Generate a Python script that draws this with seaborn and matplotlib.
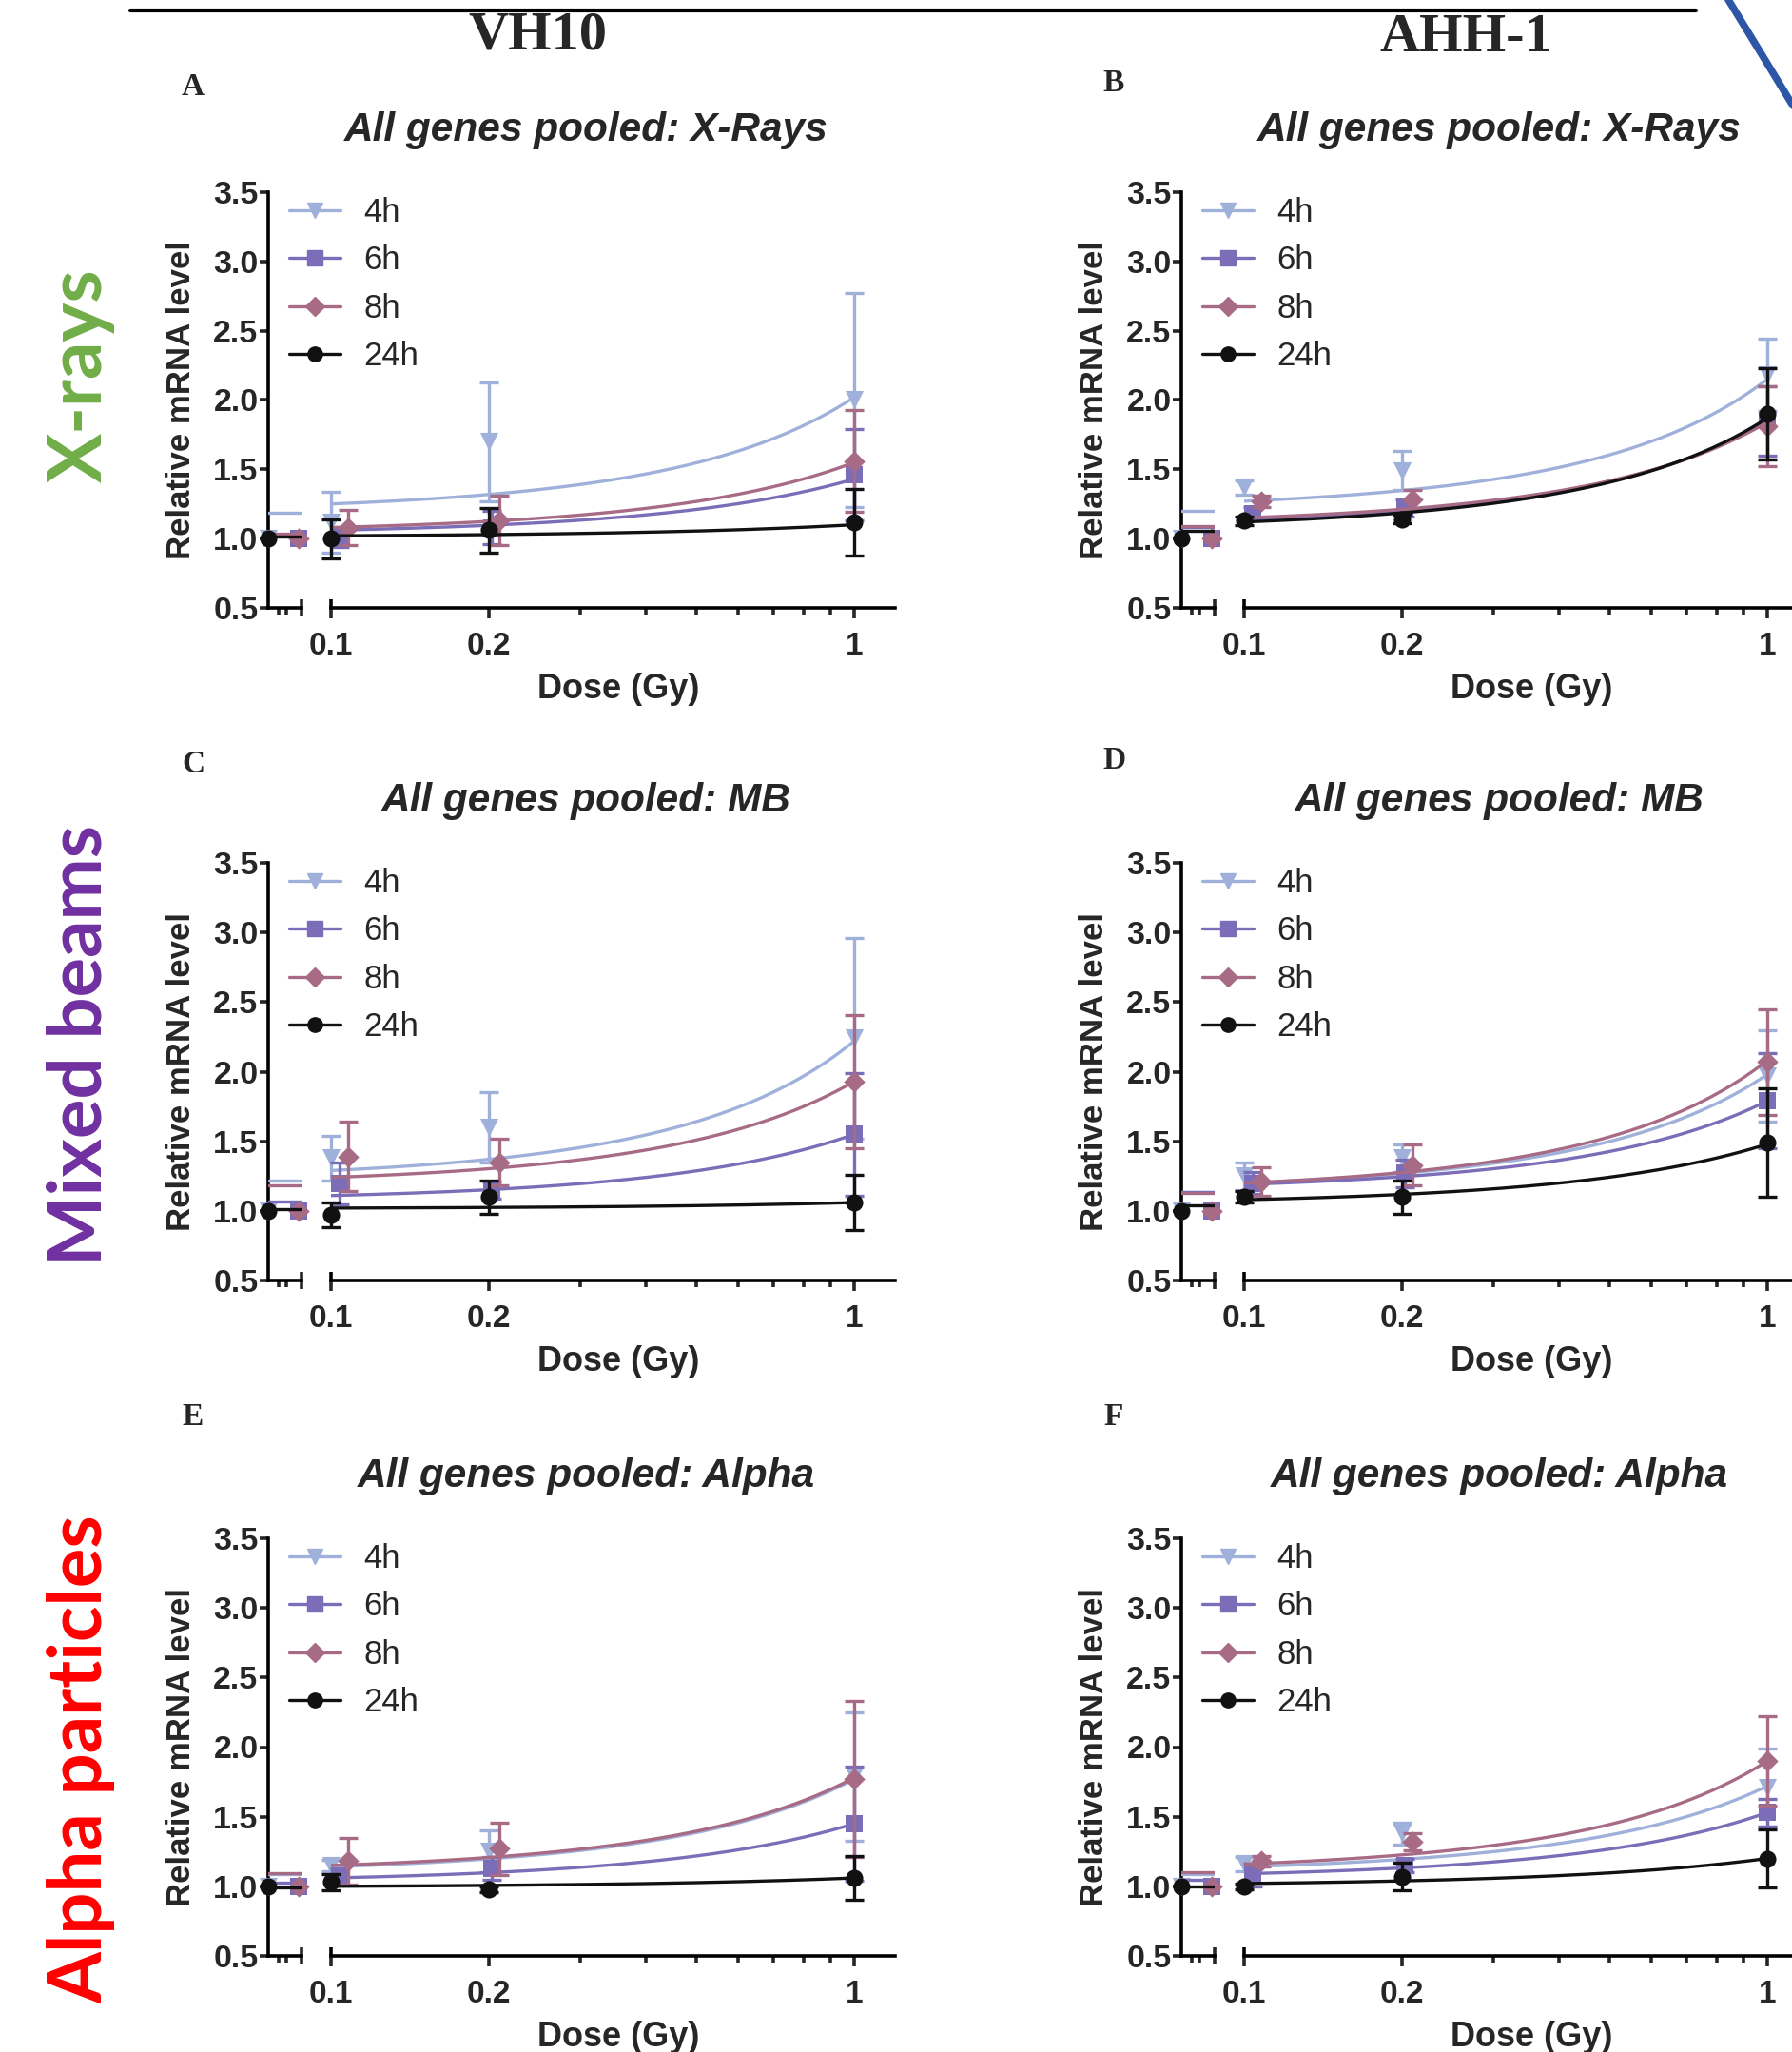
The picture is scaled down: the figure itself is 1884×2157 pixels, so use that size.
import numpy as np
import pandas as pd
import matplotlib
matplotlib.use("Agg")
import matplotlib.pyplot as plt
import seaborn as sns
from matplotlib.lines import Line2D
from matplotlib.ticker import FixedLocator, FixedFormatter, NullFormatter

# ---- data (relative mRNA level, mean and SD) ----
TIMES = ["4h", "6h", "8h", "24h"]
DOSES = [0, 0.1, 0.2, 1]
# doses as plotted per time point (Prism nudges some series a little)
DOSE_4H = [0, 0.1, 0.2, 1]
DOSE_6H = [0, 0.104, 0.203, 1]
DOSE_8H = [0, 0.108, 0.21, 1]
DOSE_24H = [0, 0.1, 0.2, 1]

CELL_LINES = ["VH10", "AHH-1"]
ROW_LABELS = ["X-rays", "Mixed beams", "Alpha particles"]
TITLES = ["All genes pooled: X-Rays", "All genes pooled: MB", "All genes pooled: Alpha"]

# rows = 4h, 6h, 8h, 24h ; columns = 0, 0.1, 0.2, 1 Gy
A_MEAN = [[1.0, 1.12, 1.70, 2.00], [1.0, 1.00, 1.08, 1.46], [1.0, 1.08, 1.13, 1.56], [1.0, 1.00, 1.06, 1.12]]
A_SD = [[0, 0.22, 0.43, 0.77], [0, 0.06, 0.12, 0.33], [0, 0.13, 0.18, 0.37], [0, 0.14, 0.16, 0.24]]
B_MEAN = [[1.0, 1.37, 1.49, 2.18], [1.0, 1.18, 1.22, 1.85], [1.0, 1.27, 1.28, 1.81], [1.0, 1.13, 1.14, 1.90]]
B_SD = [[0, 0.05, 0.14, 0.26], [0, 0.05, 0.06, 0.25], [0, 0.04, 0.07, 0.29], [0, 0.03, 0.03, 0.33]]
C_MEAN = [[1.0, 1.38, 1.60, 2.24], [1.0, 1.20, 1.15, 1.55], [1.0, 1.39, 1.35, 1.93], [1.0, 0.97, 1.10, 1.06]]
C_SD = [[0, 0.16, 0.25, 0.72], [0, 0.15, 0.06, 0.44], [0, 0.25, 0.17, 0.48], [0, 0.09, 0.12, 0.20]]
D_MEAN = [[1.0, 1.25, 1.38, 1.97], [1.0, 1.20, 1.27, 1.79], [1.0, 1.21, 1.33, 2.07], [1.0, 1.10, 1.10, 1.49]]
D_SD = [[0, 0.10, 0.10, 0.33], [0, 0.08, 0.10, 0.34], [0, 0.10, 0.15, 0.38], [0, 0.04, 0.12, 0.39]]
E_MEAN = [[1.0, 1.15, 1.25, 1.79], [1.0, 1.07, 1.13, 1.45], [1.0, 1.18, 1.27, 1.77], [1.0, 1.03, 0.98, 1.06]]
E_SD = [[0, 0.04, 0.15, 0.46], [0, 0.06, 0.08, 0.41], [0, 0.17, 0.19, 0.56], [0, 0.06, 0.02, 0.16]]
F_MEAN = [[1.0, 1.16, 1.38, 1.71], [1.0, 1.08, 1.15, 1.53], [1.0, 1.18, 1.32, 1.90], [1.0, 1.00, 1.07, 1.20]]
F_SD = [[0, 0.05, 0.08, 0.28], [0, 0.08, 0.05, 0.10], [0, 0.04, 0.06, 0.32], [0, 0.02, 0.10, 0.21]]

# exponential fit curves: value of the fitted curve at 0.1 Gy and at 1 Gy
A_FIT = [[1.25, 2.02], [1.06, 1.43], [1.08, 1.55], [1.02, 1.10]]
B_FIT = [[1.27, 2.15], [1.14, 1.85], [1.15, 1.84], [1.12, 1.87]]
C_FIT = [[1.29, 2.22], [1.11, 1.55], [1.24, 1.93], [1.02, 1.06]]
D_FIT = [[1.20, 1.98], [1.19, 1.79], [1.20, 2.08], [1.08, 1.48]]
E_FIT = [[1.14, 1.77], [1.06, 1.45], [1.15, 1.78], [1.00, 1.06]]
F_FIT = [[1.14, 1.72], [1.09, 1.53], [1.16, 1.90], [1.02, 1.20]]

PANELS = [("A", A_MEAN, A_SD, A_FIT), ("B", B_MEAN, B_SD, B_FIT),
          ("C", C_MEAN, C_SD, C_FIT), ("D", D_MEAN, D_SD, D_FIT),
          ("E", E_MEAN, E_SD, E_FIT), ("F", F_MEAN, F_SD, F_FIT)]
SERIES_DOSES = [DOSE_4H, DOSE_6H, DOSE_8H, DOSE_24H]

# ---- style ----
PALETTE = {"4h": "#9fb0da", "6h": "#7b6db8", "8h": "#a86b86", "24h": "#111111"}
MARKERS = {"4h": "v", "6h": "s", "8h": "D", "24h": "o"}
MSIZE = {"4h": 190, "6h": 160, "8h": 130, "24h": 170}
CTRL_POS = {"4h": 0.0, "6h": 0.9, "8h": 0.9, "24h": 0.0}
ROW_COLORS = ["#70ad47", "#7030a0", "#ff0000"]

sns.set_theme(style="ticks")
plt.rcParams["font.family"] = ["Liberation Sans", "DejaVu Sans"]

W, H = 1884, 2157
fig = plt.figure(figsize=(W / 100, H / 100), dpi=100)
fig.patch.set_facecolor("white")


def fx(x):
    return x / W


def fy(y):
    return 1 - y / H


COL_X = [282, 1242]
ROW_TOP = [202, 907, 1617]
ROW_BOT = [639, 1346, 2056]
LETTER_Y = [[92, 87], [803, 800], [1489, 1489]]
LETTER_X = [203, 1171]
LEFT_W = 35
MAIN_OFF, MAIN_W = 66, 593
DECADE = 550
LW = 2.6

for i, (letter, mean, sd, fit) in enumerate(PANELS):
    r, c = divmod(i, 2)
    x0, top, bot = COL_X[c], ROW_TOP[r], ROW_BOT[r]
    h = bot - top
    axl = fig.add_axes([fx(x0), fy(bot), LEFT_W / W, h / H])
    axm = fig.add_axes([fx(x0 + MAIN_OFF), fy(bot), MAIN_W / W, h / H])

    for k, t in enumerate(TIMES):
        col = PALETTE[t]
        z = 3 + k
        y01, y1 = fit[k]
        b = np.log(y1 / y01) / 0.9
        a = y01 / np.exp(0.1 * b)
        d = np.geomspace(0.1, 1, 150)
        curve = pd.DataFrame({"dose": d, "level": a * np.exp(b * d)})
        sns.lineplot(data=curve, x="dose", y="level", ax=axm, color=col, lw=2.4, zorder=z)
        sns.lineplot(x=[0, 1], y=[a, a], ax=axl, color=col, lw=2.4, zorder=z)

        xs = SERIES_DOSES[k][1:]
        ys = mean[k][1:]
        axm.errorbar(xs, ys, yerr=sd[k][1:], fmt="none", ecolor=col, elinewidth=2.4,
                     capsize=7, capthick=2.4, zorder=z, clip_on=False)
        sns.scatterplot(x=xs, y=ys, ax=axm, marker=MARKERS[t], s=MSIZE[t], color=col,
                        edgecolor=col, linewidth=0, zorder=z + 0.5, clip_on=False)
        sns.scatterplot(x=[CTRL_POS[t]], y=[mean[k][0]], ax=axl, marker=MARKERS[t], s=MSIZE[t],
                        color=col, edgecolor=col, linewidth=0, zorder=z + 0.5, clip_on=False)

    # left (control) segment
    axl.set_xlim(0, 1)
    axl.set_ylim(0.5, 3.5)
    axl.set_xlabel("")
    axl.set_ylabel("Relative mRNA level", fontsize=25, fontweight="bold")
    axl.yaxis.set_label_coords(-75 / LEFT_W, 0.5)
    yt = np.arange(0.5, 3.51, 0.5)
    axl.yaxis.set_major_locator(FixedLocator(yt))
    axl.yaxis.set_major_formatter(FixedFormatter([f"{v:.1f}" for v in yt]))
    axl.xaxis.set_major_locator(FixedLocator([1.0]))
    axl.xaxis.set_major_formatter(NullFormatter())
    axl.xaxis.set_minor_locator(FixedLocator([0.3, 0.55]))
    axl.tick_params(axis="x", which="major", direction="inout", length=13, width=LW)
    axl.tick_params(axis="x", which="minor", direction="out", length=5, width=LW)
    axl.tick_params(axis="y", which="major", direction="out", length=6.5, width=LW, pad=1,
                    labelsize=24.5)
    for lab in axl.get_yticklabels():
        lab.set_fontweight("bold")
    for s in ["top", "right"]:
        axl.spines[s].set_visible(False)
    for s in ["left", "bottom"]:
        axl.spines[s].set_linewidth(LW)
        axl.spines[s].set_color("black")
    axl.set_facecolor("none")

    # main (log dose) segment
    axm.set_xscale("log")
    axm.set_xlim(0.1, 10 ** (MAIN_W / DECADE - 1))
    axm.set_ylim(0.5, 3.5)
    axm.xaxis.set_major_locator(FixedLocator([0.1, 0.2, 1]))
    axm.xaxis.set_major_formatter(FixedFormatter(["0.1", "0.2", "1"]))
    axm.xaxis.set_minor_locator(FixedLocator([0.3, 0.4, 0.5, 0.6, 0.7, 0.8, 0.9]))
    axm.xaxis.set_minor_formatter(NullFormatter())
    axm.tick_params(axis="x", which="major", direction="out", length=8, width=LW, pad=10,
                    labelsize=24)
    axm.tick_params(axis="x", which="minor", direction="out", length=5, width=LW)
    for lab in axm.get_xticklabels():
        lab.set_fontweight("bold")
    axm.set_yticks([])
    axm.set_ylabel("")
    axm.set_xlabel("Dose (Gy)", fontsize=26, fontweight="bold")
    axm.xaxis.set_label_coords(0.51, -68 / h)
    for s in ["top", "right", "left"]:
        axm.spines[s].set_visible(False)
    axm.spines["bottom"].set_linewidth(LW)
    axm.spines["bottom"].set_color("black")
    axm.set_facecolor("none")
    # end cap of the broken axis at 0.1
    axm.plot([0.1, 0.1], [0, 9 / h], transform=axm.get_xaxis_transform(), color="black",
             lw=LW, clip_on=False, solid_capstyle="butt")

    handles = [Line2D([], [], color=PALETTE[t], marker=MARKERS[t], lw=2.4,
                      markersize=11 if t != "8h" else 10) for t in TIMES]
    axm.legend(handles, TIMES, loc="upper left", bbox_to_anchor=(fx(x0 + 22), fy(top + 5)),
               bbox_transform=fig.transFigure, frameon=False, fontsize=25, handlelength=1.55,
               handletextpad=0.7, labelspacing=0.5, borderpad=0, borderaxespad=0)

    # panel letter and title
    fig.text(fx(LETTER_X[c]), fy(LETTER_Y[r][c]), letter, fontsize=24, fontweight="bold",
             family="Liberation Serif", ha="center", va="center")
    fig.text(fx(x0 + 334), fy(top - 65), TITLES[r], fontsize=30.5, fontweight="bold",
             fontstyle="italic", ha="center", va="center")

# column headers and row labels
fig.text(fx(565), fy(37), CELL_LINES[0], fontsize=42, fontweight="bold",
         family="Liberation Serif", ha="center", va="center")
fig.text(fx(1541), fy(40), CELL_LINES[1], fontsize=42, fontweight="bold",
         family="Liberation Serif", ha="center", va="center")
for lab, yc, colr in zip(ROW_LABELS, [395, 1098, 1849], ROW_COLORS):
    fig.text(fx(85), fy(yc), lab, rotation=90, fontsize=56, fontweight="bold",
             family=["Lato", "DejaVu Sans"], color=colr, ha="center", va="center")

# decorations from the page
fig.add_artist(Line2D([fx(137), fx(1783)], [fy(11), fy(11)], color="black", lw=3))
fig.add_artist(Line2D([fx(1816), fx(1888)], [fy(-2), fy(116)], color="#2e56a6", lw=5.5))

fig.savefig("out.png", dpi=100, facecolor="white")
